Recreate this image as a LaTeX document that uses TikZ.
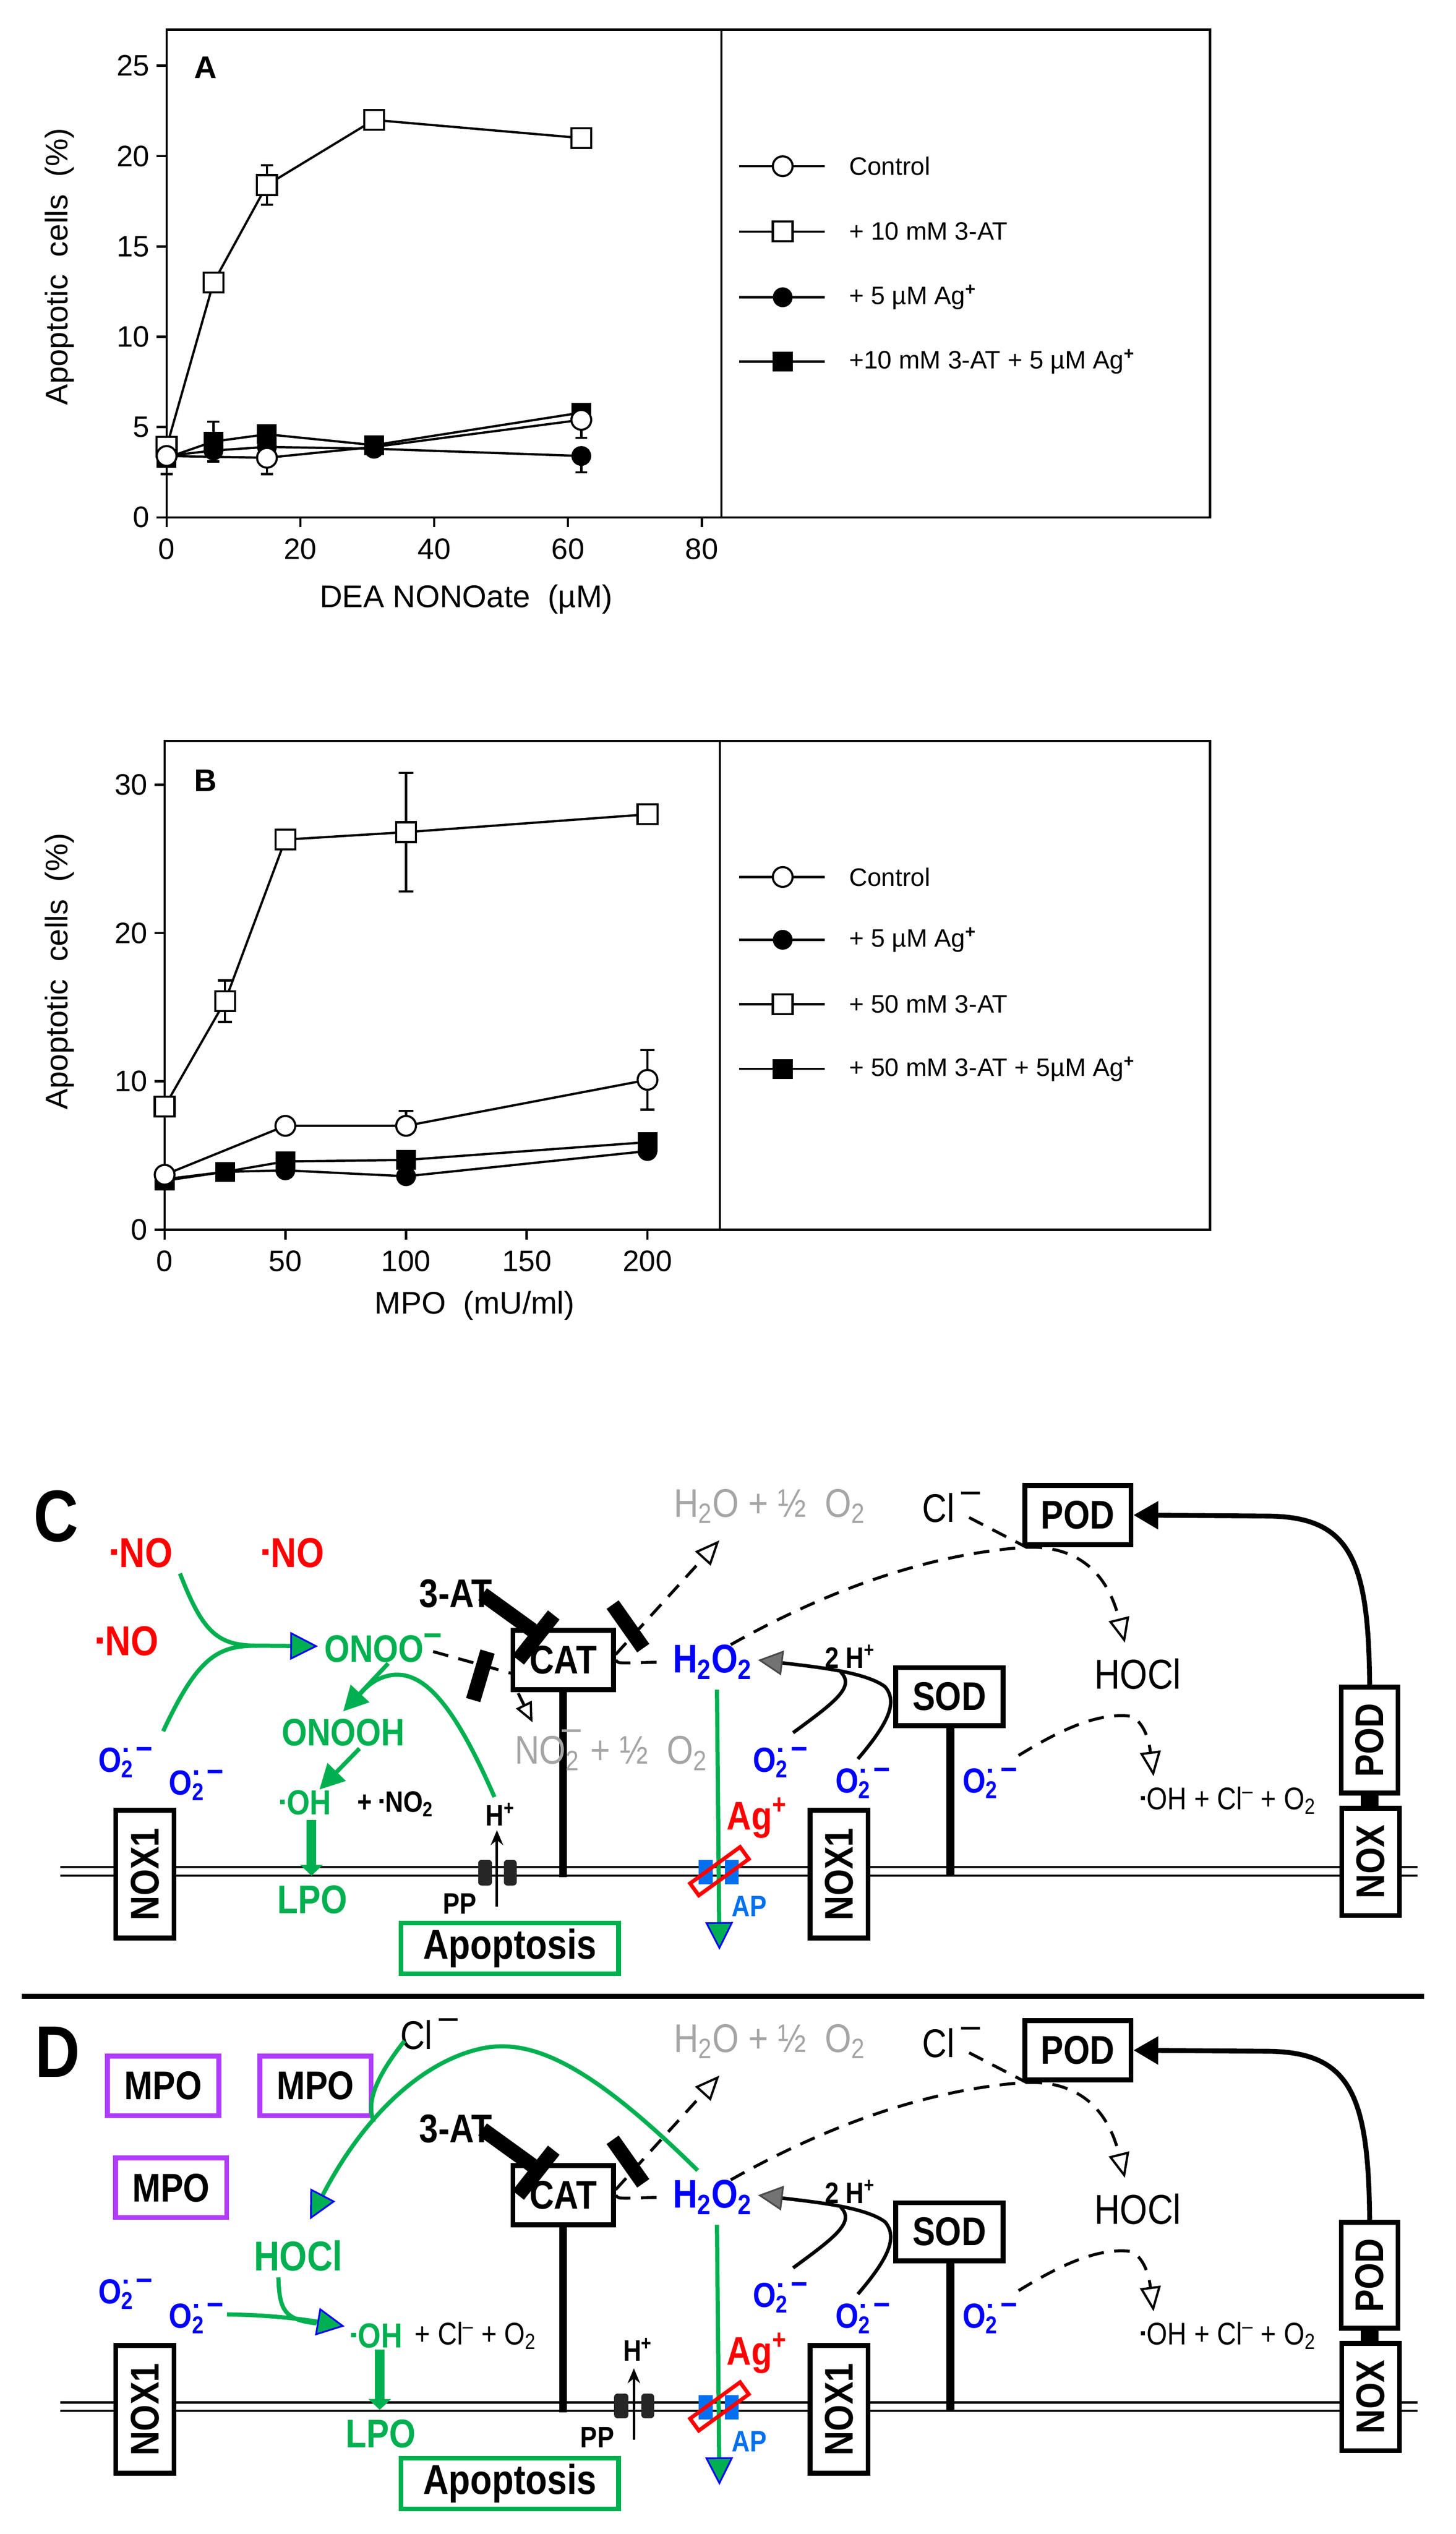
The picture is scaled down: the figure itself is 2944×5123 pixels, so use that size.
\documentclass[tikz,border=0pt]{standalone}
\usepackage{fontspec}
\setmainfont{Liberation Sans}
\newfontfamily\nar[FakeStretch=0.85]{Liberation Sans}
\usetikzlibrary{arrows.meta}
\definecolor{grn}{RGB}{0,176,80}
\definecolor{bl}{RGB}{0,0,255}
\definecolor{apb}{RGB}{0,112,240}
\definecolor{gry}{RGB}{165,165,165}
\definecolor{pur}{RGB}{175,60,255}
\newcommand\rdot{\raisebox{0.55ex}{\rule{0.14em}{0.14em}}\kern0.06em}
\newcommand\sox{O\textsubscript{2}\kern-0.3em\raisebox{1.1ex}{\rule{0.12em}{0.12em}}\kern0.25em\raisebox{0.75ex}{–}}
\newcommand\rightpart{%
  \draw[mem] (122,3775)--(2867,3775) (122,3792)--(2867,3792);
  \fill[apb] (1413,3760) rectangle (1442,3809);
  \fill[apb] (1466,3760) rectangle (1494,3809);
  \node[font=\nar\bfseries\fontsize{23}{25}\selectfont,text=bl] (h2o2) at (1441,3360) {H\textsubscript{2}O\textsubscript{2}};
  \draw[gline,-{Triangle[length=0.56cm,width=0.56cm,fill=grn,color=bl,line width=1pt]}] (1450,3416)--(1455,3942);
  \node[draw=red,line width=2.2pt,minimum width=1.25cm,minimum height=0.3cm,inner sep=0,rotate=36] (agr) at (1455,3783) {};
  \node[font=\nar\bfseries\fontsize{23}{25}\selectfont,text=red] (ag) at (1531,3675) {Ag\textsuperscript{+}};
  \node[font=\nar\bfseries\fontsize{17}{19}\selectfont,text=apb] (ap) at (1515,3854) {AP};
  \node[box,minimum width=1.18cm,minimum height=2.58cm] (noxa) at (293,3789) {\rotatebox{90}{NOX1}};
  \node[box,minimum width=1.17cm,minimum height=2.58cm] (noxb) at (1697,3789) {\rotatebox{90}{NOX1}};
  \draw[stem] (1139,3416)--(1139,3795);
  \node[box,minimum width=2.03cm,minimum height=1.2cm] (cat) at (1139,3356) {CAT};
  \draw[dsh] (cat.east) .. controls (1250,3362) .. (1270,3362) -- (h2o2.west);
  \node[font=\nar\bfseries\fontsize{23}{25}\selectfont] (at) at (922,3222) {3-AT};
  \draw[bar] (976,3223)--(1077,3296);
  \draw[bar] (1048,3356)--(1120,3265);
  \node[font=\nar\fontsize{23}{25}\selectfont,text=gry] (h2o) at (1557,3045) {H\textsubscript{2}O + ½\ \ O\textsubscript{2}};
  \draw[dsh,otip] (1245,3345)--(1455,3114);
  \draw[bar] (1239,3244)--(1301,3332);
  \draw[stem] (1922,3489)--(1922,3793);
  \node[box,minimum width=2.17cm,minimum height=1.17cm] (sod) at (1920,3430) {SOD};
  \node[box,minimum width=2.15cm,minimum height=1.2cm] (pod) at (2180,3063) {POD};
  \node[font=\nar\fontsize{23}{25}\selectfont] (cl) at (1924,3047) {Cl\raisebox{0.9ex}{\,–}};
  \node[font=\nar\fontsize{24}{26}\selectfont] (hocl) at (2301,3384) {HOCl};
  \node[font=\nar\fontsize{18}{20}\selectfont] (ohcl) at (2484,3640) {\rdot OH + Cl\textsuperscript{–} + O\textsubscript{2}};
  \coordinate (pj) at (2076,3128);
  \draw[dsh] (1478,3325) .. controls (1700,3200) and (1900,3140) .. (pj);
  \draw[dsh,otip] (pj) .. controls (2180,3125) and (2240,3180) .. (2275,3321);
  \draw[dsh] (1960,3068)--(pj);
  \node[oxl] (o3) at (1578,3563) {\sox};
  \node[oxl] (o4) at (1745,3605) {\sox};
  \node[oxl] (o5) at (2002,3605) {\sox};
  \draw[dsh,otip] (2060,3549) .. controls (2140,3500) and (2220,3460) .. (2290,3470) .. controls (2320,3490) and (2325,3530) .. (2333,3591);
  \node[font=\nar\bfseries\fontsize{17}{19}\selectfont] (hh) at (1719,3349) {2 H\textsuperscript{+}};
  \draw[line width=2pt,-{Triangle[length=0.5cm,width=0.5cm,fill=black!55,color=black!70,line width=1pt]}] (1735,3556) .. controls (1800,3480) and (1815,3440) .. (1790,3410) .. controls (1750,3380) and (1650,3370) .. (1533,3356);
  \draw[line width=2pt] (1604,3503) .. controls (1690,3440) and (1730,3410) .. (1700,3380);
  \node[box,minimum width=1.15cm,minimum height=2.14cm] (podv) at (2770,3518) {\rotatebox{90}{POD}};
  \fill (2752,3625) rectangle (2788,3656);
  \node[box,minimum width=1.17cm,minimum height=2.17cm] (nox) at (2772,3764) {\rotatebox{90}{NOX}};
  \draw[line width=2.8pt,-{Triangle[length=0.5cm,width=0.55cm]}] (podv.north) .. controls (2768,3150) and (2730,3065) .. (2560,3065) -- (pod.east);
  \node[draw=grn,line width=2.8pt,minimum width=4.4cm,minimum height=1.02cm,font=\nar\bfseries\fontsize{24}{26}\selectfont] (apo) at (1031,3939) {Apoptosis};
}
\begin{document}
\begin{tikzpicture}[x=0.01cm,y=-0.01cm,
  ax/.style={line width=1.4pt},
  dl/.style={line width=1.3pt},
  tk/.style={font=\fontsize{17}{19}\selectfont},
  leg/.style={font=\fontsize{14.5}{16}\selectfont,anchor=west},
  osq/.style={rectangle,draw,fill=white,minimum size=0.4cm,inner sep=0,line width=1.2pt},
  fsq/.style={rectangle,fill=black,minimum size=0.4cm,inner sep=0},
  ocirc/.style={circle,draw,fill=white,minimum size=0.4cm,inner sep=0,line width=1.2pt},
  fcirc/.style={circle,fill=black,minimum size=0.4cm,inner sep=0},
  mem/.style={line width=1.2pt},
  box/.style={draw,fill=white,line width=2.8pt,inner sep=0,font=\nar\bfseries\fontsize{23}{25}\selectfont},
  stem/.style={line width=4.5pt},
  bar/.style={line width=8.5pt},
  dsh/.style={line width=1.7pt,dash pattern=on 9pt off 6pt},
  otip/.style={-{Triangle[open,length=0.5cm,width=0.42cm,line width=1.3pt]}},
  gline/.style={draw=grn,line width=2.4pt},
  gt/.style={-{Triangle[length=0.56cm,width=0.56cm,fill=grn,color=bl,line width=1pt]}},
  gf/.style={-{Triangle[length=0.5cm,width=0.5cm,fill=grn,color=grn]}},
  nolab/.style={font=\nar\bfseries\fontsize{24}{26}\selectfont,text=red},
  oxl/.style={font=\nar\bfseries\fontsize{20}{22}\selectfont,text=bl},
  gb/.style={font=\nar\bfseries\fontsize{22}{24}\selectfont,text=grn}
]
\useasboundingbox (0,0) rectangle (2944,5123);
% ---------------- Panel A
\draw[ax] (337,60) rectangle (2447,1046);
\draw[ax] (1459,60)--(1459,1046);
\node[font=\fontsize{18}{20}\selectfont,rotate=90] (ya) at (120,539) {Apoptotic\ \ cells\ \ (\%)};
\node[font=\fontsize{18}{20}\selectfont] (xa) at (943,1212) {DEA NONOate\ \ (µM)};
\node[font=\bfseries\fontsize{18}{20}\selectfont] (la) at (416,137) {A};
\begin{scope}[shift={(337,1046)},x=0.1352cm,y=0.365cm]
\foreach \v in {0,5,...,25} {\draw[ax] (0,\v)--++(-0.2cm,0); \node[tk,anchor=east] (ayt\v) at ([xshift=-0.22cm]0,\v) {\v};}
\foreach \v in {0,20,...,80} {\draw[ax] (\v,0)--++(0,-0.2cm); \node[tk,anchor=north] (axt\v) at ([yshift=-0.3cm]\v,0) {\v};}
\def\cw{0.9}
\draw[dl] (15,18.4)--(15,19.5) ++(-\cw,0)--++(2*\cw,0);
\draw[dl] (15,18.4)--(15,17.3) ++(-\cw,0)--++(2*\cw,0);
\draw[dl] (7,4.2)--(7,5.3) ++(-\cw,0)--++(2*\cw,0);
\draw[dl] (7,4.2)--(7,3.1) ++(-\cw,0)--++(2*\cw,0);
\draw[dl] (15,3.3)--(15,2.4) ++(-\cw,0)--++(2*\cw,0);
\draw[dl] (0,3.4)--(0,2.4) ++(-\cw,0)--++(2*\cw,0);
\draw[dl] (62,5.4)--(62,4.4) ++(-\cw,0)--++(2*\cw,0);
\draw[dl] (62,3.4)--(62,2.5) ++(-\cw,0)--++(2*\cw,0);
\draw[dl] (0,3.9)--(7,13)--(15,18.4)--(31,22)--(62,21);
\draw[dl] (0,3.4)--(15,3.3)--(31,3.9)--(62,5.4);
\draw[dl] (0,3.4)--(7,3.7)--(15,3.9)--(31,3.8)--(62,3.4);
\draw[dl] (0,3.3)--(7,4.2)--(15,4.6)--(31,4.0)--(62,5.8);
\foreach \p [count=\i] in {(0,3.3),(7,4.2),(15,4.6),(31,4.0),(62,5.8)} \node[fsq] (afs\i) at \p {};
\foreach \p [count=\i] in {(0,3.4),(7,3.7),(15,3.9),(31,3.8),(62,3.4)} \node[fcirc] (afc\i) at \p {};
\foreach \p [count=\i] in {(0,3.9),(7,13),(15,18.4),(31,22),(62,21)} \node[osq] (aos\i) at \p {};
\foreach \p [count=\i] in {(0,3.4),(15,3.3),(62,5.4)} \node[ocirc] (aoc\i) at \p {};
\end{scope}
\foreach \y/\s/\t [count=\i] in {336/ocirc/Control,468/osq/+ 10 mM 3-AT,601/fcirc/+ 5 µM Ag\textsuperscript{\textbf{+}},731/fsq/+10 mM 3-AT + 5 µM Ag\textsuperscript{\textbf{+}}}
 {\draw[dl] (1495,\y)--(1668,\y); \node[\s] (lam\i) at (1583,\y) {}; \node[leg] (lat\i) at (1705,\y) {\t};}
% ---------------- Panel B
\draw[ax] (333,1498) rectangle (2447,2486);
\draw[ax] (1456,1498)--(1456,2486);
\node[font=\fontsize{18}{20}\selectfont,rotate=90] (yb) at (120,1964) {Apoptotic\ \ cells\ \ (\%)};
\node[font=\fontsize{18}{20}\selectfont] (xb) at (960,2640) {MPO\ \ (mU/ml)};
\node[font=\bfseries\fontsize{18}{20}\selectfont] (lb) at (416,1578) {B};
\begin{scope}[shift={(333,2486)},x=0.0488cm,y=0.2997cm]
\foreach \v in {0,10,20,30} {\draw[ax] (0,\v)--++(-0.2cm,0); \node[tk,anchor=east] (byt\v) at ([xshift=-0.22cm]0,\v) {\v};}
\foreach \v in {0,50,...,200} {\draw[ax] (\v,0)--++(0,-0.2cm); \node[tk,anchor=north] (bxt\v) at ([yshift=-0.3cm]\v,0) {\v};}
\def\cw{3}
\draw[dl] (25,15.4)--(25,16.8) ++(-\cw,0)--++(2*\cw,0);
\draw[dl] (25,15.4)--(25,14) ++(-\cw,0)--++(2*\cw,0);
\draw[dl] (100,26.8)--(100,30.8) ++(-\cw,0)--++(2*\cw,0);
\draw[dl] (100,26.8)--(100,22.8) ++(-\cw,0)--++(2*\cw,0);
\draw[dl] (100,7)--(100,8) ++(-\cw,0)--++(2*\cw,0);
\draw[dl] (200,10.1)--(200,12.1) ++(-\cw,0)--++(2*\cw,0);
\draw[dl] (200,10.1)--(200,8.1) ++(-\cw,0)--++(2*\cw,0);
\draw[dl] (0,8.3)--(25,15.4)--(50,26.3)--(100,26.8)--(200,28);
\draw[dl] (0,3.7)--(50,7)--(100,7)--(200,10.1);
\draw[dl] (0,3.4)--(25,3.9)--(50,4.0)--(100,3.6)--(200,5.3);
\draw[dl] (0,3.3)--(25,3.9)--(50,4.6)--(100,4.7)--(200,5.9);
\foreach \p [count=\i] in {(0,3.3),(25,3.9),(50,4.6),(100,4.7),(200,5.9)} \node[fsq] (bfs\i) at \p {};
\foreach \p [count=\i] in {(0,3.4),(50,4.0),(100,3.6),(200,5.3)} \node[fcirc] (bfc\i) at \p {};
\foreach \p [count=\i] in {(0,8.3),(25,15.4),(50,26.3),(100,26.8),(200,28)} \node[osq] (bos\i) at \p {};
\foreach \p [count=\i] in {(0,3.7),(50,7),(100,7),(200,10.1)} \node[ocirc] (boc\i) at \p {};
\end{scope}
\foreach \y/\s/\t [count=\i] in {1773/ocirc/Control,1900/fcirc/+ 5 µM Ag\textsuperscript{\textbf{+}},2030/osq/+ 50 mM 3-AT,2161/fsq/+ 50 mM 3-AT + 5µM Ag\textsuperscript{\textbf{+}}}
 {\draw[dl] (1495,\y)--(1668,\y); \node[\s] (lbm\i) at (1583,\y) {}; \node[leg] (lbt\i) at (1705,\y) {\t};}
% ---------------- Panel C
\begin{scope}[name prefix=c-]
\rightpart
\node[font=\nar\bfseries\fontsize{42}{46}\selectfont] (lab) at (113,3065) {C};
\node[nolab] (no1) at (287,3139) {\rdot NO};
\node[nolab] (no2) at (593,3139) {\rdot NO};
\node[nolab] (no3) at (258,3318) {\rdot NO};
\node[gb] (onoo) at (775,3332) {ONOO\raisebox{0.8ex}{–}};
\node[oxl] (o1) at (254,3563) {\sox};
\node[oxl] (o2) at (397,3609) {\sox};
\node[gb] (onooh) at (694,3503) {ONOOH};
\coordinate (mg) at (520,3327);
\draw[gline] (364,3181) .. controls (410,3300) and (440,3327) .. (mg);
\draw[gline] (330,3500) .. controls (400,3350) and (440,3327) .. (mg);
\draw[gline,gt] (mg) -- (643,3328);
\draw[gline,gf] (785,3363) -- (694,3460);
\draw[gline] (1000,3633) .. controls (920,3450) and (860,3380) .. (795,3386) .. controls (765,3390) and (745,3405) .. (728,3425);
\draw[gline,gf] (727,3535) -- (646,3618);
\node[gb,font=\nar\bfseries\fontsize{20}{22}\selectfont] (oh) at (618,3644) {\rdot OH};
\node[font=\nar\bfseries\fontsize{17}{19}\selectfont] (no2x) at (800,3647) {+ \rdot NO\textsubscript{2}};
\draw[draw=grn,line width=5.5pt,-{Triangle[length=0.22cm,width=0.45cm,fill=grn,color=grn]}] (630,3679)--(630,3792);
\node[gb,font=\nar\bfseries\fontsize{23}{25}\selectfont] (lpo) at (632,3840) {LPO};
\fill[black!85,rounded corners=2pt] (967,3760) rectangle (995,3812);
\fill[black!85,rounded corners=2pt] (1019,3760) rectangle (1045,3812);
\node[font=\nar\bfseries\fontsize{17}{19}\selectfont] (pp) at (930,3849) {PP};
\draw[line width=1.5pt,-{Stealth[length=0.3cm,width=0.25cm]}] (1005,3854)--(1005,3700);
\node[font=\nar\bfseries\fontsize{17}{19}\selectfont] (hp) at (1012,3668) {H\textsuperscript{+}};
\draw[dsh] (876,3339)--(1038,3384);
\draw[bar] (986,3339)--(957,3437);
\draw[dsh,-{Triangle[open,length=0.4cm,width=0.35cm,line width=1.3pt]}] (1048,3423)--(1077,3482);
\node[font=\nar\fontsize{23}{25}\selectfont,text=gry] (no2) at (1236,3538) {NO\textsubscript{2}\kern-0.45em\raisebox{1.1ex}{–}\ + ½\ \ O\textsubscript{2}};
\end{scope}
% separator
\draw[line width=2.8pt] (44,4036)--(2880,4036);
% ---------------- Panel D
\begin{scope}[shift={(0,1082)},name prefix=d-]
\rightpart
\end{scope}
\begin{scope}[name prefix=d-]
\node[font=\nar\bfseries\fontsize{42}{46}\selectfont] (lab) at (117,4148) {D};
\node[box,draw=pur,minimum width=2.25cm,minimum height=1.2cm] (m1) at (330,4217) {MPO};
\node[box,draw=pur,minimum width=2.25cm,minimum height=1.2cm] (m2) at (638,4217) {MPO};
\node[box,draw=pur,minimum width=2.25cm,minimum height=1.2cm] (m3) at (346,4423) {MPO};
\node[font=\nar\fontsize{23}{25}\selectfont] (cl0) at (868,4112) {Cl\raisebox{0.9ex}{\,–}};
\draw[gline,gt] (1411,4388) .. controls (1200,4180) and (1080,4120) .. (976,4141) .. controls (860,4165) and (740,4270) .. (627,4487);
\draw[gline] (818,4126) .. controls (760,4200) and (740,4250) .. (756,4290);
\node[gb,font=\nar\bfseries\fontsize{24}{26}\selectfont] (hocl) at (603,4560) {HOCl};
\node[oxl] (o1) at (254,4638) {\sox};
\node[oxl] (o2) at (397,4687) {\sox};
\draw[gline] (563,4604) .. controls (565,4670) and (575,4690) .. (640,4697);
\draw[gline,gt] (459,4679) .. controls (550,4680) and (620,4690) .. (697,4703);
\node[gb,font=\nar\bfseries\fontsize{20}{22}\selectfont] (oh) at (762,4722) {\rdot OH};
\node[font=\nar\fontsize{18}{20}\selectfont] (ohr) at (962,4722) {+ Cl\textsuperscript{–} + O\textsubscript{2}};
\draw[draw=grn,line width=5.5pt,-{Triangle[length=0.22cm,width=0.45cm,fill=grn,color=grn]}] (768,4750)--(768,4872);
\node[gb,font=\nar\bfseries\fontsize{23}{25}\selectfont] (lpo) at (770,4920) {LPO};
\fill[black!85,rounded corners=2pt] (1242,4839) rectangle (1271,4889);
\fill[black!85,rounded corners=2pt] (1297,4839) rectangle (1323,4889);
\node[font=\nar\bfseries\fontsize{17}{19}\selectfont] (pp) at (1208,4928) {PP};
\draw[line width=1.5pt,-{Stealth[length=0.3cm,width=0.25cm]}] (1282,4932)--(1282,4788);
\node[font=\nar\bfseries\fontsize{17}{19}\selectfont] (hp) at (1290,4750) {H\textsuperscript{+}};
\end{scope}
\end{tikzpicture}
\end{document}
